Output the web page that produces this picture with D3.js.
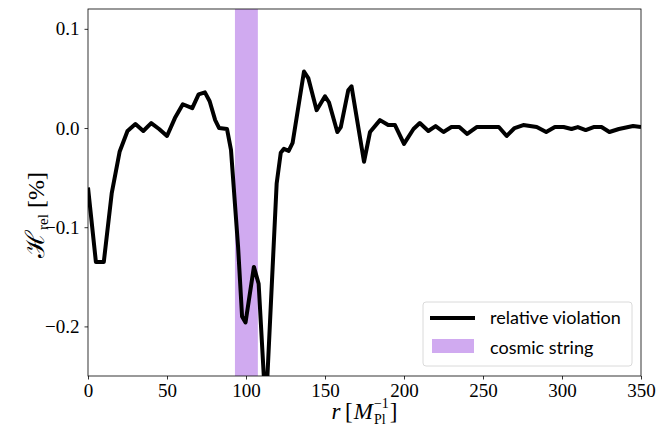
<!DOCTYPE html>
<html><head><meta charset="utf-8">
<script src="https://cdn.jsdelivr.net/npm/d3@7"></script>
<style>body{margin:0;background:#fff}</style>
</head><body>
<svg id="c" width="657" height="428"></svg>
<script>
// radius values (M_Pl^-1) and relative violation (%)
const rValues = [0,5,10,15,20,25,30,35,40,45,50,55,60,66,70,74,77,80.5,83,88,90.5,95,97.5,99.7,105,108,112.5,119.4,122,124,127,129.5,136.7,139.5,144.7,150,152.5,157.8,160,164.7,166.8,174.7,178.5,184.8,190,194.3,200,206,210,215.4,220,225,230,235,240,246,255,260,265,270,275.5,284,290,295.5,301,306,310,315,320,325,330,336,345,350];
const hRel = [-0.060,-0.135,-0.135,-0.066,-0.024,-0.003,0.004,-0.003,0.005,-0.001,-0.008,0.010,0.024,0.020,0.034,0.036,0.027,0.008,0.000,-0.001,-0.022,-0.120,-0.190,-0.196,-0.140,-0.157,-0.285,-0.056,-0.025,-0.021,-0.023,-0.015,0.057,0.050,0.018,0.032,0.026,-0.004,0.001,0.038,0.042,-0.034,-0.004,0.008,0.003,0.003,-0.016,-0.001,0.005,-0.003,0.002,-0.004,0.001,0.001,-0.006,0.001,0.001,0.001,-0.008,0.000,0.003,0.001,-0.004,0.001,0.001,-0.001,0.001,-0.002,0.001,0.001,-0.004,-0.001,0.002,0.001];
const stringBand = [93, 107.5];
const xTicks = [0,50,100,150,200,250,300,350];
const yTicks = [-0.2,-0.1,0.0,0.1];
const legendLabels = ["relative violation","cosmic string"];

const W=657,H=428, m={l:88,r:16,t:9,b:52};
const svg=d3.select("#c");
const x=d3.scaleLinear().domain([0,350]).range([m.l,W-m.r]);
const y=d3.scaleLinear().domain([-0.25,0.12]).range([H-m.b,m.t]);

svg.append("defs").append("clipPath").attr("id","clip").append("rect")
  .attr("x",m.l).attr("y",m.t).attr("width",W-m.l-m.r).attr("height",H-m.t-m.b);

const purple="#d0aaf0";
svg.append("rect").attr("x",x(stringBand[0])).attr("y",m.t)
  .attr("width",x(stringBand[1])-x(stringBand[0])).attr("height",H-m.t-m.b)
  .attr("fill",purple);

const pts=rValues.map((r,i)=>[r,hRel[i]]);
svg.append("path").datum(pts).attr("clip-path","url(#clip)")
  .attr("d",d3.line().x(d=>x(d[0])).y(d=>y(d[1])))
  .attr("fill","none").attr("stroke","#000").attr("stroke-width",4).attr("stroke-linejoin","round");

const fmt=d=>(d<0?"\u2212":"")+Math.abs(d).toFixed(1);
const gx=svg.append("g").attr("transform",`translate(0,${H-m.b})`)
  .call(d3.axisBottom(x).tickValues(xTicks).tickSize(3.5).tickPadding(4).tickFormat(d3.format("d")));
const gy=svg.append("g").attr("transform",`translate(${m.l},0)`)
  .call(d3.axisLeft(y).tickValues(yTicks).tickSize(3.5).tickPadding(5).tickFormat(fmt));
[gx,gy].forEach(g=>{
  g.selectAll("text").attr("font-family","'Liberation Serif',serif").attr("font-size",19).attr("fill","#000");
  g.selectAll("line").attr("stroke","#000").attr("stroke-width",0.8);
  g.select(".domain").remove();
});
svg.append("rect").attr("x",m.l).attr("y",m.t).attr("width",W-m.l-m.r).attr("height",H-m.t-m.b)
  .attr("fill","none").attr("stroke","#000").attr("stroke-width",0.8);

// x label built piecewise
const xlg=svg.append("g").attr("font-family","'Liberation Serif',serif").attr("fill","#000");
const base=419;
let cx=0;
function piece(t,size,italic,dy){
  const el=xlg.append("text").attr("x",cx).attr("y",base+dy).attr("font-size",size)
    .attr("font-style",italic?"italic":"normal").text(t);
  return el.node().getComputedTextLength();
}
cx+=piece("r",23,true,0);
cx+=piece("\u2009[",23,false,0)+1;
cx+=piece("M",23,true,0)+1;
const wSub=piece("Pl",14,false,5);
const wSup=piece("\u22121",14,false,-11);
cx+=Math.max(wSub,wSup)+1;
cx+=piece("]",23,false,0);
xlg.attr("transform",`translate(${(m.l+W-m.r)/2-cx/2},0)`);

// y label
const yl=svg.append("text").attr("transform","translate(44,215) rotate(-90)").attr("text-anchor","middle")
  .attr("font-family","'Liberation Serif',serif").attr("font-size",24).attr("fill","#000");
yl.append("tspan").attr("font-family","'DejaVu Serif',serif").attr("font-size",26).text("\u210B");
yl.append("tspan").attr("font-size",15).attr("dy",4).text("rel");
yl.append("tspan").attr("dy",-4).text(" [%]");

// legend
const lg=svg.append("g");
lg.append("rect").attr("x",423).attr("y",302).attr("width",209).attr("height",64).attr("rx",3)
  .attr("fill","#fff").attr("fill-opacity",0.8).attr("stroke","#d0d0d0").attr("stroke-width",0.8);
lg.append("line").attr("x1",430).attr("x2",475).attr("y1",318).attr("y2",318).attr("stroke","#000").attr("stroke-width",4);
lg.append("rect").attr("x",432).attr("y",339).attr("width",42).attr("height",14).attr("fill",purple);
legendLabels.forEach((t,i)=>lg.append("text").attr("x",490).attr("y",324+i*30)
  .attr("font-family","Lato,sans-serif").attr("font-size",18).attr("fill","#000").text(t));
</script>
</body></html>
